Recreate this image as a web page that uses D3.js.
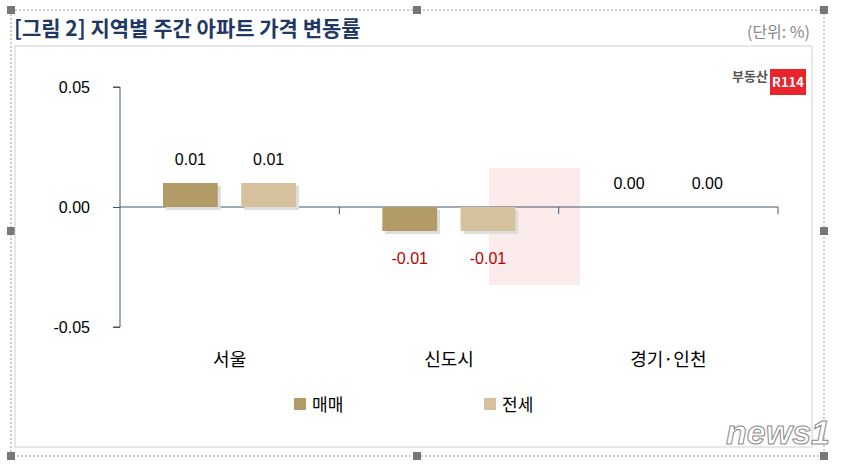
<!DOCTYPE html>
<html><head><meta charset="utf-8">
<script src="https://cdn.jsdelivr.net/npm/d3@7"></script>
<style>body{margin:0;background:#fff;font-family:"Noto Sans CJK KR","Noto Sans",sans-serif}</style>
</head><body><div id="chart"></div>
<script>
var regions = ["서울", "신도시", "경기·인천"];
var seriesNames = ["매매", "전세"];
var sale = [0.01, -0.01, 0.00];
var jeonse = [0.01, -0.01, 0.00];
var yTicks = [0.05, 0.00, -0.05];
var colors = ["#b39b68", "#d5c19e"];

var width = 842, height = 466;
var fmt = function(v){ return d3.format(".2f")(v).replace("−", "-"); };
var svg = d3.select("#chart").append("svg").attr("width", width).attr("height", height);

// outer frame with handles
svg.append("rect").attr("x", 11).attr("y", 10).attr("width", 813).attr("height", 446)
  .attr("fill", "none").attr("stroke", "#999").attr("stroke-dasharray", "2,2");
[[11,10],[417,10],[824,10],[11,231],[824,231],[11,456],[417,456],[824,456]].forEach(function(p){
  svg.append("rect").attr("x", p[0]-4).attr("y", p[1]-4).attr("width", 8).attr("height", 8).attr("fill", "#777");
});

svg.append("text").attr("x", 14).attr("y", 36).attr("fill", "#1f3864")
  .style("font-size", "21px").style("font-weight", "bold").text("[그림 2] 지역별 주간 아파트 가격 변동률");
svg.append("text").attr("x", 810).attr("y", 38).attr("text-anchor", "end").attr("fill", "#888")
  .style("font-size", "16px").text("(단위: %)");

svg.append("rect").attr("x", 15).attr("y", 46).attr("width", 797).attr("height", 401)
  .attr("fill", "none").attr("stroke", "#d0d0d0");

// logo
svg.append("text").attr("x", 768).attr("y", 81).attr("text-anchor", "end").attr("fill", "#555")
  .style("font-size", "13px").style("font-weight", "bold").text("부동산");
svg.append("rect").attr("x", 770).attr("y", 69).attr("width", 36).attr("height", 26).attr("fill", "#e8242c");
svg.append("text").attr("x", 788).attr("y", 87).attr("text-anchor", "middle").attr("fill", "#fff")
  .style("font-size", "13px").style("font-weight", "bold").text("R114");
// watermark
svg.append("rect").attr("x", 489).attr("y", 168).attr("width", 91).attr("height", 117).attr("fill", "#fcebeb");

var y = d3.scaleLinear().domain([-0.05, 0.05]).range([327, 87]);
var x0 = d3.scaleBand().domain(regions).range([120, 778]);
var x1 = d3.scaleBand().domain(seriesNames).range([43, 176]).paddingInner(0.3);

svg.append("g").attr("transform", "translate(120,0)")
  .call(d3.axisLeft(y).tickValues(yTicks).tickSize(7).tickFormat(fmt))
  .call(function(g){
    g.select(".domain").attr("stroke", "#44546a").attr("d", "M-7,87H0V327H-7");
    g.selectAll(".tick line").attr("stroke", "#44546a");
    g.selectAll("text").attr("x", -30).style("font-size", "16px").attr("fill", "#000")
      .style("font-family", "Liberation Sans, Arial");
  });

var xAxis = svg.append("g").attr("transform", "translate(0," + y(0) + ")");
xAxis.append("line").attr("x1", 120).attr("x2", 778).attr("stroke", "#44546a");
regions.forEach(function(d, i){
  var xx = 120 + x0.bandwidth() * (i + 1);
  xAxis.append("line").attr("x1", xx).attr("x2", xx).attr("y1", 0).attr("y2", 7).attr("stroke", "#44546a");
});

var series = [sale, jeonse];
series.forEach(function(vals, s){
  regions.forEach(function(r, i){
    var v = vals[i];
    var bx = x0(r) + x1(seriesNames[s]);
    var top = y(Math.max(0, v)), h = Math.abs(y(v) - y(0));
    if (h > 0) {
      svg.append("rect").attr("x", bx + 3).attr("y", top + 3).attr("width", x1.bandwidth()).attr("height", h).attr("fill", "#ddd");
      svg.append("rect").attr("x", bx).attr("y", top).attr("width", x1.bandwidth()).attr("height", h).attr("fill", colors[s]);
    }
    svg.append("text").attr("x", bx + x1.bandwidth() / 2)
      .attr("y", v < 0 ? y(v) + 33 : y(v) - 18)
      .attr("text-anchor", "middle").attr("fill", v < 0 ? "#c00000" : "#000")
      .style("font-size", "16px").style("font-family", "Liberation Sans, Arial")
      .text(fmt(v));
  });
});

regions.forEach(function(r){
  svg.append("text").attr("x", x0(r) + x0.bandwidth() / 2).attr("y", 366).attr("text-anchor", "middle")
    .style("font-size", "18px").text(r);
});

var legendX = [294, 484];
seriesNames.forEach(function(n, i){
  svg.append("rect").attr("x", legendX[i]).attr("y", 398).attr("width", 12).attr("height", 12).attr("fill", colors[i]);
  svg.append("text").attr("x", legendX[i] + 18).attr("y", 411).style("font-size", "17px").text(n);
});

svg.append("text").attr("x", 830).attr("y", 444).attr("text-anchor", "end").attr("fill", "#fff")
  .attr("stroke", "#888").attr("stroke-width", 1).style("font-size", "34px").style("font-style", "italic")
  .style("font-weight", "bold").style("font-family", "Liberation Sans, Arial").text("news1");
</script></body></html>
